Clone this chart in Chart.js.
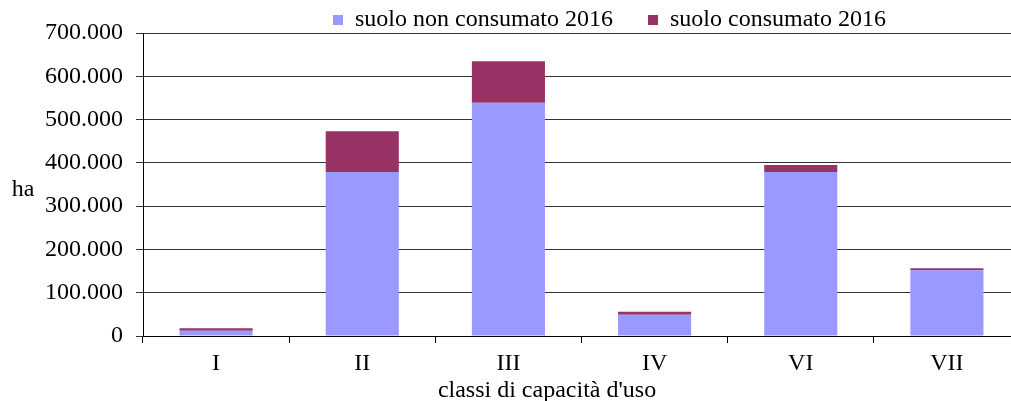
<!DOCTYPE html>
<html>
<head>
<meta charset="utf-8">
<script src="https://cdn.jsdelivr.net/npm/chart.js@4"></script>
<style>
  html, body { margin: 0; padding: 0; background: #fff; overflow: hidden; }
  #wrap { position: absolute; left: 0; top: 0; width: 1020px; height: 401px; }
</style>
</head>
<body>
<div id="wrap"><canvas id="classiChart"></canvas></div>
<script>
const categories = ['I', 'II', 'III', 'IV', 'VI', 'VII'];
const nonConsumato = [12000, 379000, 539000, 49000, 379000, 152000];
const consumato = [6000, 94000, 96000, 7000, 16000, 4500];
const yTicks = [0, 100000, 200000, 300000, 400000, 500000, 600000, 700000];
const seriesNames = ['suolo non consumato 2016', 'suolo consumato 2016'];
const yTitle = 'ha';
const xTitle = "classi di capacità d'uso";

const FONT = '"Liberation Serif", "Times New Roman", serif';

// 700000 -> "700.000"
function fmt(v) {
    return String(v).replace(/\B(?=(\d{3})+(?!\d))/g, '.');
}

// legend sits right of centre, axis titles are plain text
const layoutTweaks = {
    id: 'layoutTweaks',
    afterLayout(chart) {
        const lg = chart.legend;
        if (!lg || !lg.lineWidths) return;
        const pad = lg.options.labels.padding;
        const startX = (lg.left + pad + lg.right - lg.lineWidths[0]) / 2;
        const shift = 333 - startX;
        lg.left += shift;
        lg.right += shift;
        lg.top = -27;
    },
    afterDraw(chart) {
        const ctx = chart.ctx;
        ctx.save();
        ctx.font = '24px ' + FONT;
        ctx.fillStyle = '#000';
        ctx.textAlign = 'center';
        ctx.textBaseline = 'middle';
        ctx.fillText(yTitle, 23, 190);
        ctx.fillText(xTitle, 547, 391);
        ctx.restore();
    }
};

const ctx = document.getElementById('classiChart').getContext('2d');

new Chart(ctx, {
    type: 'bar',
    data: {
        labels: categories,
        datasets: [{
            label: seriesNames[0],
            data: nonConsumato,
            backgroundColor: '#9999FF',
        }, {
            label: seriesNames[1],
            data: consumato,
            backgroundColor: '#993366',
        }],
    },
    options: {
        responsive: true,
        maintainAspectRatio: false,
        animation: false,
        layout: { padding: { left: 43, right: 0, top: 0, bottom: 25 } },
        datasets: {
            bar: { barPercentage: 0.5, categoryPercentage: 1 },
        },
        plugins: {
            legend: {
                position: 'top',
                maxHeight: 33,
                labels: {
                    boxWidth: 10,
                    boxHeight: 10,
                    padding: 35,
                    color: '#000',
                    font: { family: FONT, size: 24 },
                },
            },
            tooltip: { enabled: false },
        },
        scales: {
            x: {
                stacked: true,
                afterFit(scale) { scale.height = 40; },
                grid: {
                    drawOnChartArea: false,
                    drawTicks: true,
                    tickLength: 7,
                    color: '#000',
                },
                border: { color: '#000' },
                ticks: {
                    color: '#000',
                    padding: 6,
                    font: { family: FONT, size: 24 },
                },
            },
            y: {
                stacked: true,
                min: 0,
                max: yTicks[yTicks.length - 1],
                afterFit(scale) { scale.width = 100; },
                afterBuildTicks(scale) {
                    scale.ticks = yTicks.map(v => ({ value: v }));
                },
                grid: {
                    color: '#333',
                    tickLength: 7,
                },
                border: { color: '#000' },
                ticks: {
                    color: '#000',
                    padding: 13,
                    font: { family: FONT, size: 24 },
                    callback: v => fmt(v),
                },
            },
        },
    },
    plugins: [layoutTweaks],
});
</script>
</body>
</html>
